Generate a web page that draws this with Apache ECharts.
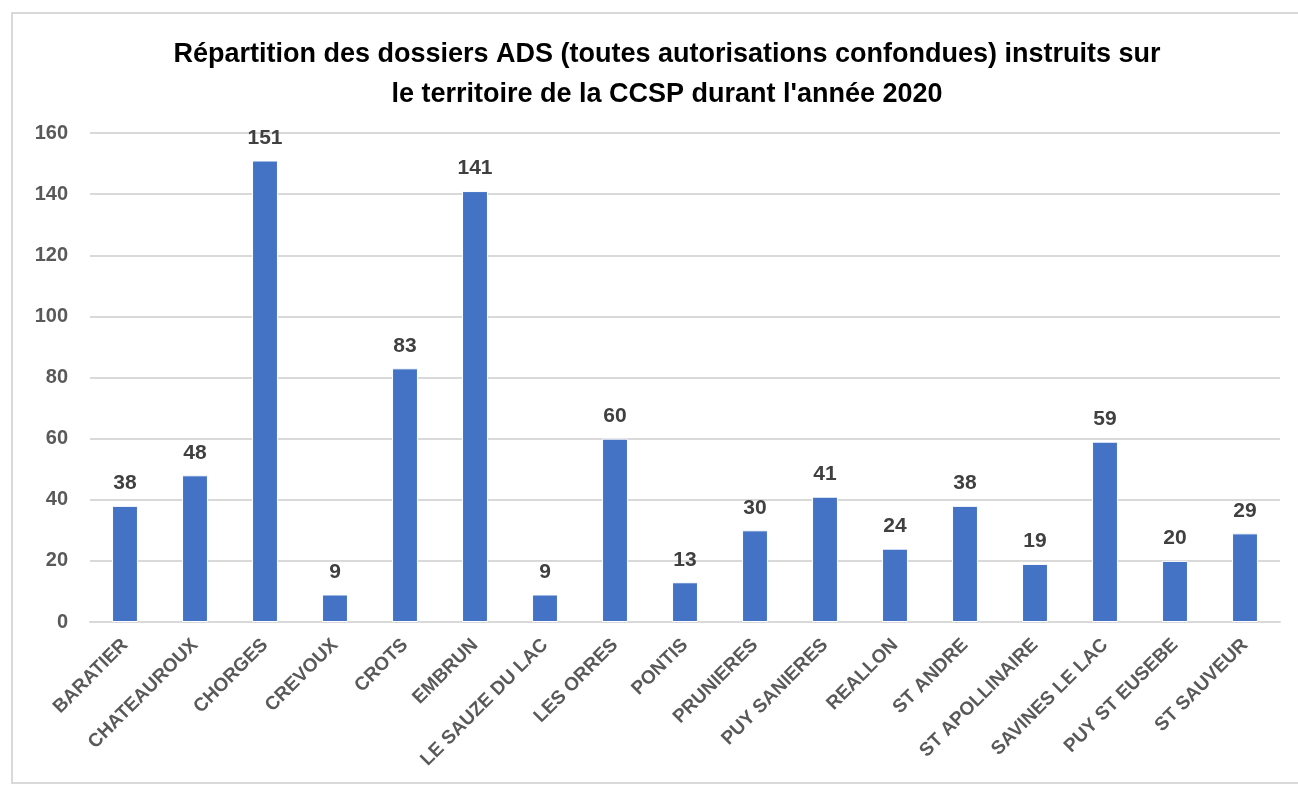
<!DOCTYPE html>
<html>
<head>
<meta charset="utf-8">
<script src="https://cdn.jsdelivr.net/npm/echarts@6/dist/echarts.min.js"></script>
<style>
  html, body { margin: 0; padding: 0; background: #fff; }
  #frame { position: absolute; left: 11px; top: 12px; width: 1300px; height: 772px; border: 2px solid #d9d9d9; box-sizing: border-box; }
  #chart { width: 1298px; height: 787px; }
</style>
</head>
<body>
<div id="frame"></div>
<div id="chart"></div>
<script>
const FONT = '"Liberation Sans", sans-serif'

// communes
const communes = [
  'BARATIER', 'CHATEAUROUX', 'CHORGES', 'CREVOUX', 'CROTS', 'EMBRUN',
  'LE SAUZE DU LAC', 'LES ORRES', 'PONTIS', 'PRUNIERES', 'PUY SANIERES',
  'REALLON', 'ST ANDRE', 'ST APOLLINAIRE', 'SAVINES LE LAC', 'PUY ST EUSEBE', 'ST SAUVEUR'
]
// nombre de dossiers
const dossiers = [38, 48, 151, 9, 83, 141, 9, 60, 13, 30, 41, 24, 38, 19, 59, 20, 29]
// graduations
const yTicks = [0, 20, 40, 60, 80, 100, 120, 140, 160]

const chart = echarts.init(document.getElementById('chart'))

chart.setOption({
  animation: false,
  title: {
    text: "Répartition des dossiers ADS (toutes autorisations confondues) instruits sur\nle territoire de la CCSP durant l'année 2020",
    left: 662, top: 30, textAlign: 'center',
    textStyle: { fontFamily: FONT, fontWeight: 'bold', fontSize: 27, lineHeight: 40, color: '#000' },
  },
  grid: { left: 90, right: 18, top: 133, bottom: 165 },
  xAxis: {
    type: 'category',
    data: communes,
    axisLine: { lineStyle: { color: '#d9d9d9', width: 2 } },
    axisTick: { show: false },
    axisLabel: {
      interval: 0, rotate: 45, margin: 20,
      fontFamily: FONT, fontWeight: 'bold', fontSize: 19, color: '#595959',
    },
  },
  yAxis: {
    type: 'value',
    min: yTicks[0], max: yTicks[yTicks.length - 1], interval: 20,
    axisLine: { show: false },
    axisTick: { show: false },
    splitLine: { lineStyle: { color: '#d9d9d9', width: 2 } },
    axisLabel: { margin: 22, fontFamily: FONT, fontWeight: 'bold', fontSize: 20, color: '#595959' },
  },
  series: [{
    type: 'bar',
    data: dossiers,
    barWidth: '37%',
    itemStyle: { color: '#4472c4', borderColor: '#fff', borderWidth: 1 },
    label: {
      show: true, position: 'top', distance: 12,
      fontFamily: FONT, fontWeight: 'bold', fontSize: 21, color: '#404040',
    },
  }],
})
</script>
</body>
</html>
